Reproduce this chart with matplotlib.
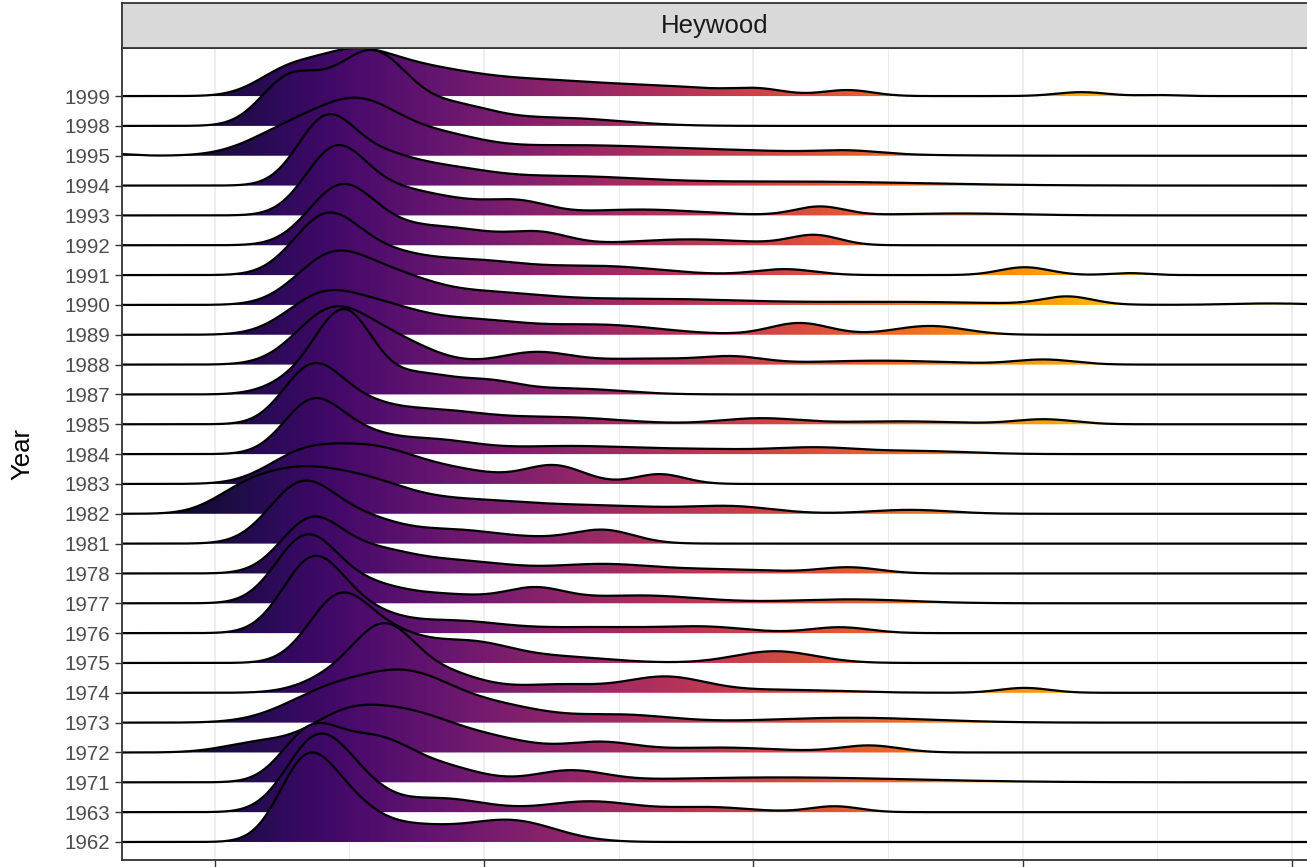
import numpy as np
import matplotlib
matplotlib.use("Agg")
import matplotlib.pyplot as plt
from matplotlib.patches import Polygon

plt.rcParams['font.family'] = ['Liberation Sans', 'DejaVu Sans']

# -------------------- Data --------------------
# each year's density is described by a few bumps:
# centre (x units), width (x units), relative height
years = [1962, 1963, 1971, 1972, 1973, 1974, 1975, 1976, 1977, 1978,
         1981, 1982, 1983, 1984, 1985, 1987, 1988, 1989, 1990, 1991,
         1992, 1993, 1994, 1995, 1998, 1999]

peak_centres = [
    [3.34, 4.83, 7.24, 10.95],
    [3.71, 5.20, 8.36, 13.93, 18.38, 23.02],
    [3.53, 5.94, 8.73, 13.18, 20.98],
    [1.67, 4.64, 7.06, 10.58, 14.30, 18.75, 24.32],
    [4.27, 7.24, 10.58, 15.04, 23.58],
    [4.83, 6.31, 7.98, 12.81, 16.71, 20.98, 30.08],
    [4.57, 6.50, 9.47, 12.81, 20.80],
    [3.60, 5.38, 8.73, 14.30, 18.38, 23.21],
    [3.34, 5.38, 8.73, 11.88, 15.78, 23.58],
    [3.53, 5.76, 9.10, 14.30, 18.75, 23.58],
    [3.16, 5.38, 8.73, 11.33, 14.48],
    [0.90, 2.79, 5.38, 9.10, 14.30, 19.31, 25.81],
    [3.16, 5.76, 9.10, 12.63, 16.52],
    [3.53, 5.01, 7.98, 12.81, 18.01, 22.47, 26.18],
    [3.53, 5.01, 7.98, 12.81, 20.24, 25.44, 30.82],
    [3.16, 4.83, 7.61, 10.21, 13.18],
    [4.27, 6.50, 11.88, 16.15, 19.31, 24.69, 30.82],
    [3.90, 6.13, 9.47, 14.30, 21.72, 26.55],
    [4.27, 6.50, 9.84, 16.15, 25.44, 31.68, 39.18],
    [4.08, 6.13, 9.47, 14.30, 21.17, 30.08, 33.98],
    [4.64, 6.50, 9.10, 12.07, 17.64, 22.28],
    [4.46, 6.50, 8.73, 11.33, 15.78, 22.47, 27.66],
    [4.08, 5.94, 8.36, 12.81, 21.72],
    [-3.90, 2.79, 5.38, 8.36, 12.81, 19.87, 23.58],
    [2.60, 4.00, 6.00, 8.73, 12.81],
    [2.60, 5.01, 7.61, 11.70, 17.27, 20.24, 23.51, 32.19, 35.09],
]

peak_widths = [
    [1.00, 1.11, 1.49, 1.67],
    [1.11, 1.11, 1.67, 1.67, 1.49, 0.93],
    [1.04, 1.41, 1.30, 1.30, 4.83],
    [1.30, 1.30, 1.86, 1.49, 1.30, 2.23, 1.11],
    [1.67, 1.67, 1.67, 1.86, 2.97],
    [1.30, 1.04, 1.67, 1.49, 1.49, 2.23, 0.93],
    [1.11, 1.30, 1.49, 1.86, 1.49],
    [1.11, 1.30, 1.86, 2.60, 1.49, 1.11],
    [1.11, 1.49, 1.49, 1.11, 2.23, 2.23],
    [1.11, 1.49, 1.86, 1.86, 2.23, 1.11],
    [1.19, 1.49, 1.49, 2.23, 1.11],
    [1.10, 1.49, 1.67, 2.23, 2.97, 1.49, 1.49],
    [1.30, 1.67, 1.67, 1.11, 0.93],
    [1.04, 1.30, 1.67, 2.23, 2.97, 1.49, 1.86],
    [1.04, 1.30, 1.86, 2.23, 1.49, 2.23, 1.11],
    [1.11, 1.04, 1.30, 1.11, 1.86],
    [1.30, 1.49, 1.30, 2.23, 1.11, 2.60, 1.11],
    [1.30, 1.49, 1.86, 2.23, 1.11, 1.30],
    [1.30, 1.49, 2.23, 3.34, 3.71, 0.93, 1.49],
    [1.19, 1.49, 1.86, 2.23, 1.11, 0.93, 0.74],
    [1.19, 1.49, 1.49, 1.11, 2.23, 0.93],
    [1.11, 1.30, 1.49, 1.11, 2.23, 0.93, 2.23],
    [1.04, 1.30, 1.67, 2.97, 4.46],
    [0.74, 1.49, 1.49, 1.49, 3.71, 3.71, 1.11],
    [1.00, 1.40, 1.20, 1.49, 2.23],
    [1.11, 1.49, 1.86, 2.97, 2.23, 0.93, 0.93, 0.93, 0.74],
]

peak_heights = [
    [74, 35, 15, 22],
    [68, 25, 14, 11, 5, 6],
    [48, 44, 12, 11, 5],
    [10, 25, 40, 10, 10, 5, 7],
    [30, 45, 15, 8, 5],
    [20, 46, 24, 8, 16, 3, 5],
    [62, 26, 20, 6, 12],
    [70, 20, 12, 6, 5, 6],
    [62, 20, 8, 14, 8, 4],
    [50, 22, 12, 9, 4, 6],
    [55, 25, 10, 6, 12],
    [14, 35, 30, 12, 8, 6, 4],
    [25, 35, 12, 18, 10],
    [45, 20, 14, 7, 5, 5, 3],
    [50, 20, 14, 7, 6, 3, 5],
    [15, 80, 20, 11, 6],
    [50, 25, 12, 6, 6, 4, 5],
    [35, 25, 14, 10, 12, 9],
    [45, 25, 12, 6, 3, 8, 1.5],
    [55, 20, 14, 9, 6, 8, 2],
    [55, 15, 14, 12, 6, 10],
    [65, 20, 14, 12, 6, 9, 2],
    [62, 25, 15, 9, 4],
    [2, 25, 50, 15, 10, 4, 3],
    [32, 30, 62, 20, 8],
    [20, 38, 20, 16, 7, 5, 6, 4, 1],
]

x_ticks = [0, 10, 20, 30, 40]
x_minor = [5, 15, 25, 35]
x_min, x_max = -3.45, 40.6
ridge_scale = 3.0
facet = "Heywood"

# -------------------- Densities --------------------
xs = np.linspace(x_min, x_max, 1500)
curves = []
for cs, ws, hs in zip(peak_centres, peak_widths, peak_heights):
    d = np.zeros_like(xs)
    for c, w, h in zip(cs, ws, hs):
        d += h * np.exp(-0.5 * ((xs - c) / w) ** 2)
    curves.append(d)
top = max(d.max() for d in curves)

# -------------------- Figure --------------------
fig = plt.figure(figsize=(13.07, 8.67), dpi=100)
ax = fig.add_axes([0.0933, 0.0081, 0.9074, 0.9365])
ax.set_facecolor("white")

grad = np.linspace(0, 1, 600).reshape(1, -1)
n = len(years)
for i in reversed(range(n)):
    y = i + curves[i] / top * ridge_scale
    z = 2 + 2 * (n - 1 - i)
    verts = np.column_stack([np.r_[xs, xs[::-1]], np.r_[y, np.full_like(xs, i)]])
    patch = Polygon(verts, closed=True, facecolor="none", edgecolor="none")
    ax.add_patch(patch)
    im = ax.imshow(grad, extent=[x_min, x_max, -1, 30], aspect="auto",
                   cmap="inferno", vmin=-0.03, vmax=1, zorder=z, interpolation="bilinear")
    im.set_clip_path(patch)
    ax.plot(xs, y, color="black", lw=1.6, zorder=z + 1, solid_capstyle="butt")

ax.set_xlim(x_min, x_max)
ax.set_ylim(-0.603, 26.61)

# x labels sit below the cropped edge of the picture, so only the ticks show
ax.set_xticks(x_ticks)
ax.set_xticklabels([""] * len(x_ticks))
ax.set_xticks(x_minor, minor=True)
ax.set_yticks(range(n))
ax.set_yticklabels([str(y) for y in years])
ax.grid(True, which="major", axis="x", color="#ebebeb", lw=1.2, zorder=0)
ax.grid(True, which="minor", axis="x", color="#ebebeb", lw=0.7, zorder=0)
ax.set_axisbelow(True)
ax.tick_params(axis="both", which="major", length=5, width=1.0, color="#333333",
               labelcolor="#4d4d4d", labelsize=14.8, pad=3.5)
ax.tick_params(axis="both", which="minor", length=0)
for sp in ax.spines.values():
    sp.set_color("#333333")
    sp.set_linewidth(1.3)
    sp.set_zorder(200)

ax.set_ylabel("Year", fontsize=18.5, color="black")
ax.yaxis.set_label_coords(-0.074, 0.5)

# facet strip
strip = fig.add_axes([0.0933, 0.9446, 0.9074, 0.0519])
strip.set_facecolor("#d9d9d9")
strip.set_xticks([])
strip.set_yticks([])
for sp in strip.spines.values():
    sp.set_color("#333333")
    sp.set_linewidth(1.3)
strip.text(0.5, 0.5, facet, ha="center", va="center", fontsize=18.5, color="#1a1a1a",
           transform=strip.transAxes)

fig.savefig("out.png", dpi=100)
